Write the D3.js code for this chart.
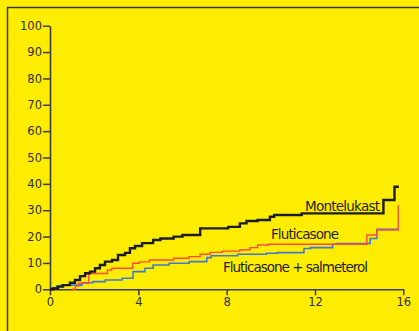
<!DOCTYPE html>
<html>
<head>
<meta charset="utf-8">
<script src="https://cdn.jsdelivr.net/npm/d3@7"></script>
<style>
  body { margin: 0; background: #ffed00; }
  svg { display: block; }
</style>
</head>
<body>
<div id="target"></div>
<script>
// step points: [time, cumulative %]
const montelukastT = [0, 0.14, 0.36, 0.59, 0.9, 1.13, 1.36, 1.59, 1.81, 2.04, 2.26, 2.49, 2.81, 3.08, 3.4, 3.62, 3.85, 4.17, 4.67, 5.0, 5.6, 6.0, 6.8, 8.07, 8.6, 8.9, 9.4, 9.96, 10.15, 11.4, 15.1, 15.6, 15.8];
const montelukastV = [0, 0.3, 1.0, 1.6, 2.5, 3.5, 5.0, 6.1, 6.7, 8.0, 9.2, 10.5, 11.1, 13.0, 13.8, 15.6, 16.4, 17.5, 18.7, 19.3, 20.0, 20.6, 23.1, 23.7, 25.0, 25.9, 26.3, 27.5, 28.2, 28.8, 33.9, 38.9, 38.9];

const fluticasoneT = [1.0, 1.15, 1.3, 1.75, 2.6, 2.8, 3.75, 4.05, 4.5, 5.6, 6.3, 6.8, 7.25, 7.8, 8.6, 9.06, 9.4, 9.9, 14.35, 14.8, 15.77];
const fluticasoneV = [0, 1.2, 2.3, 6.0, 7.3, 8.0, 9.9, 10.4, 11.1, 11.8, 12.4, 13.3, 14.0, 14.5, 15.0, 15.8, 16.8, 17.1, 20.6, 22.5, 32];

const salmeterolT = [0, 0.1, 0.3, 0.5, 1.45, 1.95, 2.5, 3.27, 3.76, 4.3, 4.67, 5.4, 6.3, 7.1, 7.3, 8.5, 9.8, 10.3, 11.5, 11.8, 12.8, 13.0, 14.5, 14.8, 15.8];
const salmeterolV = [0, 0.6, 1.2, 1.6, 2.5, 2.9, 3.5, 4.2, 6.7, 8.0, 9.2, 9.9, 10.5, 12.0, 12.7, 13.3, 13.7, 13.9, 15.5, 15.8, 17.1, 17.4, 19.3, 22.8, 22.8];

const xTicks = [0, 4, 8, 12, 16];
const yTicks = [0, 10, 20, 30, 40, 50, 60, 70, 80, 90, 100];

const width = 419, height = 331;
const font = "'DejaVu Sans', sans-serif";

let svg = d3.select("#target").append("svg")
  .attr("width", width)
  .attr("height", height);

// frame running off the right and bottom edges
svg.append("rect")
  .attr("x", 7.5).attr("y", 7.5)
  .attr("width", 500).attr("height", 400)
  .attr("fill", "none")
  .attr("stroke", "#3a3a3a")
  .attr("stroke-width", 1.5);

let x = d3.scaleLinear().domain([0, 16]).range([50, 403.3]);
let y = d3.scaleLinear().domain([0, 100]).range([289.3, 25.7]);

let xAxis = svg.append("g")
  .attr("transform", `translate(0,${y(0)})`)
  .call(d3.axisBottom(x).tickValues(xTicks).tickSize(6).tickSizeOuter(0).tickPadding(3));

let yAxis = svg.append("g")
  .attr("transform", `translate(${x(0)},0)`)
  .call(d3.axisLeft(y).tickValues(yTicks).tickSize(7).tickSizeOuter(0).tickPadding(1));

[xAxis, yAxis].forEach(a => {
  a.select(".domain").attr("stroke", "#3c3c46").attr("stroke-width", 1.6);
  a.selectAll(".tick line").attr("stroke", "#3c3c46").attr("stroke-width", 1.5);
  a.selectAll(".tick text")
    .attr("fill", "#2e2e3c")
    .style("font-family", font)
    .style("font-size", "11.5px");
});

let line = d3.line()
  .x(d => x(d[0]))
  .y(d => y(d[1]))
  .curve(d3.curveStepAfter);

const series = [
  {t: salmeterolT, v: salmeterolV, color: "#3d7ad6", w: 1.6},
  {t: fluticasoneT, v: fluticasoneV, color: "#ff4a4a", w: 1.4},
  {t: montelukastT, v: montelukastV, color: "#1c1c1c", w: 2.4}
];

series.forEach(s => {
  svg.append("path")
    .datum(d3.zip(s.t, s.v))
    .attr("fill", "none")
    .attr("stroke", s.color)
    .attr("stroke-width", s.w)
    .attr("d", line);
});

const labels = [
  {text: "Montelukast", x: 305, y: 211, len: 75},
  {text: "Fluticasone", x: 271, y: 239, len: 68},
  {text: "Fluticasone + salmeterol", x: 223, y: 272, len: 145}
];

svg.selectAll(".lbl")
  .data(labels)
  .enter().append("text")
  .attr("class", "lbl")
  .attr("x", d => d.x)
  .attr("y", d => d.y)
  .attr("textLength", d => d.len)
  .attr("lengthAdjust", "spacing")
  .attr("fill", "#1e1e1e")
  .style("font-family", font)
  .style("font-size", "13.5px")
  .text(d => d.text);
</script>
</body>
</html>
